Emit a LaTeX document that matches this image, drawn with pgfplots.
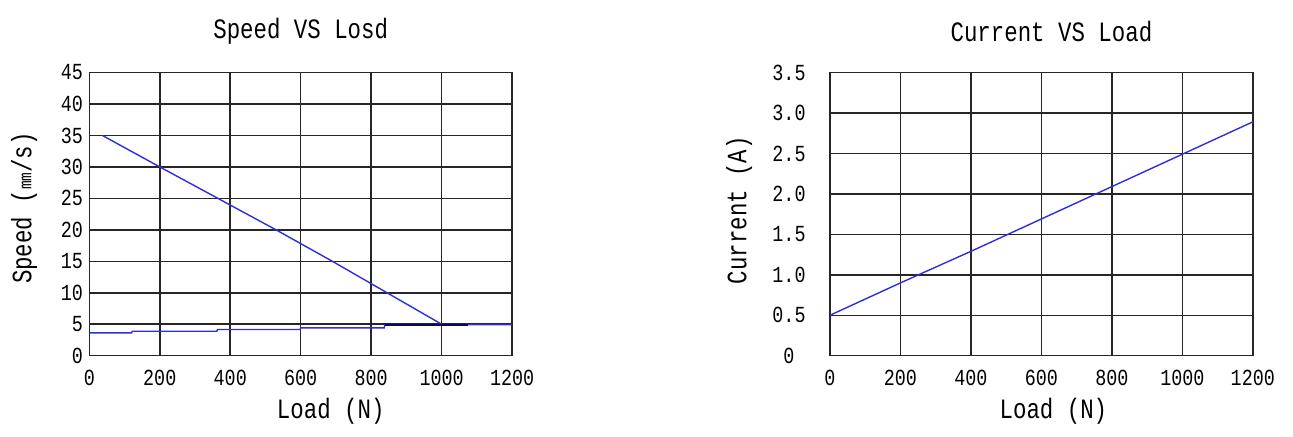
\documentclass[border=0pt]{standalone}
\usepackage{fontspec}
\setmainfont[FakeStretch=0.8]{Liberation Mono}
\usepackage{pgfplots}
\pgfplotsset{compat=1.18}
\definecolor{lineblue}{RGB}{45,45,225}
\definecolor{navy}{RGB}{10,10,90}
\pgfplotsset{mystyle/.style={
  scale only axis, width=211.4pt, height=141.6pt, anchor=south west,
  xmin=0, xmax=1200, xtick={0,200,...,1200},
  xticklabels={0,200,400,600,800,1000,1200},
  grid=major, major grid style={black!85, line width=0.75pt},
  axis line style={black!85, line width=0.75pt},
  major tick length=0pt,
  tick label style={font=\fontsize{11.5}{13}\selectfont},
  /pgf/number format/assume math mode=true,
  /pgf/number format/1000 sep={},
  xticklabel style={anchor=center, yshift=-11pt},
  label style={font=\fontsize{14}{16}\selectfont},
  title style={font=\fontsize{14}{16}\selectfont, at={(axis description cs:0.5,1)}, anchor=center, yshift=14.5pt},
  xlabel style={at={(axis description cs:0.5,0)}, anchor=center, yshift=-28pt},
}}
\begin{document}
\begin{tikzpicture}
\useasboundingbox (0,0) rectangle (646.5pt,218pt);
\begin{axis}[mystyle, at={(44.65pt,40.15pt)},
  ymin=0, ymax=45, ytick={0,5,...,45},
  yticklabels={0,5,10,15,20,25,30,35,40,45},
  yticklabel style={anchor=east, inner sep=0pt, xshift=-3pt},
  title={Speed VS Losd},
  xlabel={Load (N)},
  xlabel style={xshift=15pt},
  ylabel={Speed ({\fontsize{9}{10}\selectfont mm}/s)},
  ylabel style={at={(axis description cs:0,0.5)}, anchor=center, yshift=32.6pt, xshift=3pt},
]
\addplot[lineblue, line width=0.7pt] coordinates {
(37,35) (200,30) (365,25) (530,20) (690,15) (845,10) (1000,5)};
\addplot[lineblue, line width=0.7pt] coordinates {
(0,3.63) (120,3.63) (122,3.89) (362,3.89) (364,4.16) (598,4.16) (600,4.43) (837,4.43) (839,4.9) (1200,4.95)};
\addplot[navy, line width=1.3pt] coordinates {(839,4.9) (1075,4.9)};
\end{axis}
\begin{axis}[mystyle, at={(415pt,40.15pt)},
  ymin=0, ymax=3.5, ytick={0,0.5,...,3.5},
  yticklabels={0,0.5,1.0,1.5,2.0,2.5,3.0,3.5},
  yticklabel style={anchor=center, xshift=-20.5pt},
  title={Current VS Load},
  title style={xshift=5pt},
  xlabel={Load (N)},
  xlabel style={xshift=6pt},
  ylabel={Current (A)},
  ylabel style={at={(axis description cs:0,0.5)}, anchor=center, yshift=45.5pt, xshift=2pt},
]
\addplot[lineblue, line width=0.7pt] coordinates {
(0,0.5) (200,0.9) (400,1.29) (600,1.69) (800,2.09) (1000,2.49) (1200,2.89)};
\end{axis}
\end{tikzpicture}
\end{document}
